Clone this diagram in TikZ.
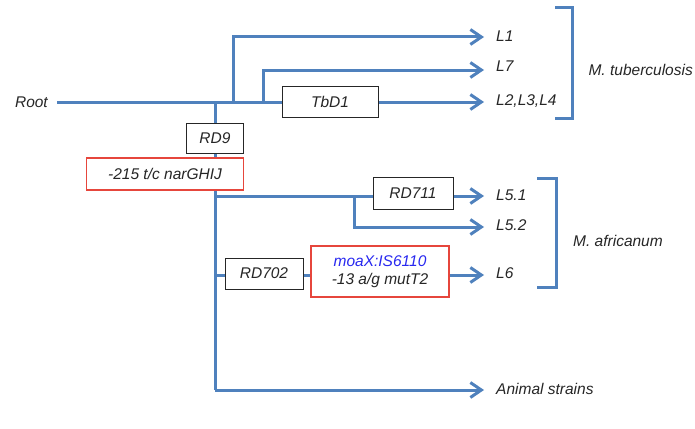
\documentclass[tikz,border=0pt]{standalone}
\usepackage{fontspec}
\setmainfont{Liberation Sans}
\usetikzlibrary{arrows.meta}
\definecolor{lineblue}{RGB}{79,129,189}
\definecolor{boxred}{RGB}{230,70,60}
\definecolor{txtblue}{RGB}{40,40,240}
\begin{document}
\begin{tikzpicture}[x=1pt,y=-1pt,
  every node/.style={font=\itshape\fontsize{15.5}{18}\selectfont,text=black!85},
  link/.style={draw=lineblue,line width=3pt},
  arr/.style={link,-{Straight Barb[length=11pt,width=15pt,line width=3pt]}},
  brk/.style={draw=lineblue,line width=3pt},
  blackbox/.style={draw=black!85,line width=1pt,fill=white,inner sep=0pt},
  redbox/.style={draw=boxred,line width=1.3pt,fill=white,inner sep=0pt},
  lab/.style={anchor=west,inner sep=0pt}]
\useasboundingbox (0,0) rectangle (695,428);
% labels
\node[anchor=east,inner sep=0pt] (root) at (48,102) {Root};
\node[lab] (L1) at (496,36) {L1};
\node[lab] (L7) at (496,66) {L7};
\node[lab] (L234) at (496,101) {L2,L3,L4};
\node[lab] (L51) at (496,195) {L5.1};
\node[lab] (L52) at (496,225) {L5.2};
\node[lab] (L6) at (496,273) {L6};
\node[lab] (AS) at (496,389) {Animal strains};
\node[anchor=east,inner sep=0pt] (mtb) at (693,70) {M. tuberculosis};
\node[lab] (maf) at (573,241) {M. africanum};
% coordinates
\coordinate (r0) at (57,102);
\coordinate (j1) at (215,102);
\coordinate (j2) at (233,102);
\coordinate (j3) at (263,102);
\coordinate (c1) at (233,37);
\coordinate (c7) at (263,70);
\coordinate (e1) at (484,37);
\coordinate (e7) at (484,70);
\coordinate (e234) at (484,102);
\coordinate (bottom) at (215,390);
\coordinate (eAS) at (484,390);
\coordinate (j5) at (215,196);
\coordinate (j52) at (354,196);
\coordinate (c52) at (354,227);
\coordinate (e51) at (484,196);
\coordinate (e52) at (484,227);
\coordinate (j6) at (215,275);
\coordinate (e6) at (484,275);
% lines
\draw[link] (r0) -- (j3);
\draw[link] (j1) -- (bottom);
\draw[arr] (j2) -- (c1) -- (e1);
\draw[arr] (j3) -- (c7) -- (e7);
\draw[arr] (j3) -- (e234);
\draw[arr] (bottom) -- (eAS);
\draw[link] (j5) -- (j52);
\draw[arr] (j52) -- (e51);
\draw[arr] (j52) -- (c52) -- (e52);
\draw[arr] (j6) -- (e6);
% boxes
\node[blackbox,minimum width=96pt,minimum height=31pt] (tbd1) at (330,102) {TbD1};
\node[blackbox,minimum width=57pt,minimum height=30pt] (rd9) at (215,138) {RD9};
\node[redbox,minimum width=157pt,minimum height=32pt] (nar) at (165,174) {-215 t/c narGHIJ};
\node[blackbox,minimum width=80pt,minimum height=32pt] (rd711) at (413,193) {RD711};
\node[blackbox,minimum width=78pt,minimum height=31pt] (rd702) at (264,273.5) {RD702};
\node[redbox,minimum width=138pt,minimum height=51pt,align=center] (moa) at (380,271.5) {\textcolor{txtblue}{moaX:IS6110}\\-13 a/g mutT2};
% brackets
\draw[brk] (555,8) -- (572,8) -- (572,118) -- (555,118);
\draw[brk] (537,178) -- (556,178) -- (556,287) -- (537,287);
\end{tikzpicture}
\end{document}
